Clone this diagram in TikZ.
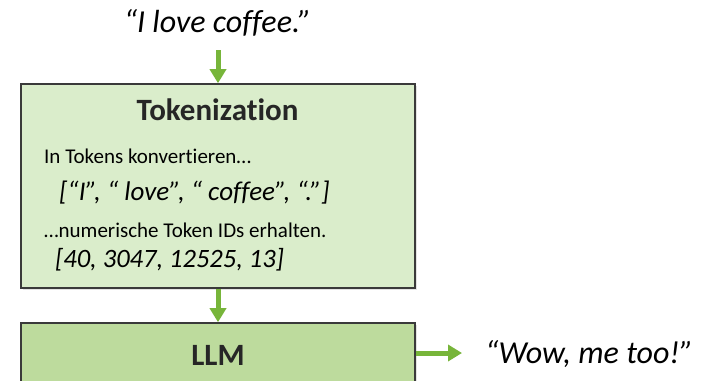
\documentclass[tikz,border=0pt]{standalone}
\usepackage{fontspec}
\setmainfont{Carlito}[Ligatures=NoCommon]
\usetikzlibrary{arrows.meta,shadows}
\definecolor{flowgreen}{HTML}{77B53A}
\definecolor{tokfill}{HTML}{DAEDCB}
\definecolor{llmfill}{HTML}{BDDB9D}
\definecolor{boxline}{HTML}{3A3A3A}
\definecolor{inktext}{HTML}{262626}
\tikzset{
  stagebox/.style={draw=boxline, line width=1.6pt, minimum width=394pt,
    inner sep=0pt, drop shadow={opacity=0.22, shadow xshift=1.5pt, shadow yshift=-1.5pt}},
  flowarrow/.style={draw=flowgreen, line width=5pt,
    -{Triangle[width=16pt,length=14pt]}},
  quotetext/.style={font=\fontsize{32}{36}\selectfont\itshape, text=black, inner sep=0pt},
  titletext/.style={font=\fontsize{31}{36}\selectfont\bfseries, text=inktext, inner sep=0pt},
  plaintext/.style={font=\fontsize{21}{25}\selectfont, text=black, inner sep=0pt, anchor=base west},
  listtext/.style={font=\fontsize{27}{30}\selectfont\itshape, text=black, inner sep=0pt, anchor=base west}
}
\begin{document}
\begin{tikzpicture}[x=1pt, y=-1pt]
  \clip (0,0) rectangle (706,380);
  \fill[white] (0,0) rectangle (706,380);

  % stages
  \node[stagebox, fill=tokfill, minimum height=204pt] (tok) at (218,186) {};
  \node[stagebox, fill=llmfill, minimum height=65pt] (llm) at (218,355.5) {};

  % input and output text
  \node[quotetext, anchor=base] (input) at (217.5,32) {“I love coffee.”};
  \node[quotetext, anchor=base west] (output) at (485,363) {“Wow, me too!”};

  % contents of the tokenization stage
  \node[titletext, anchor=base] (toktitle) at (217.5,120) {Tokenization};
  \node[plaintext] (step1) at (44,163) {In Tokens konvertieren…};
  \node[listtext] (tokens) at (59,200) {[“I”, “ love”, “ coffee”, “.”]};
  \node[plaintext] (step2) at (44,237) {…numerische Token IDs erhalten.};
  \node[listtext, font=\fontsize{26.5}{30}\selectfont\itshape] (ids) at (55,267) {[40, 3047, 12525, 13]};

  \node[titletext, anchor=center] (llmtitle) at (218,355.5) {LLM};

  % connectors
  \coordinate (intop) at (218,50);
  \coordinate (outend) at (462,353);
  \draw[flowarrow] (intop) -- (tok.north);
  \draw[flowarrow] (tok.south) -- (llm.north);
  \draw[flowarrow] (llm.east |- outend) -- (outend);
\end{tikzpicture}
\end{document}
